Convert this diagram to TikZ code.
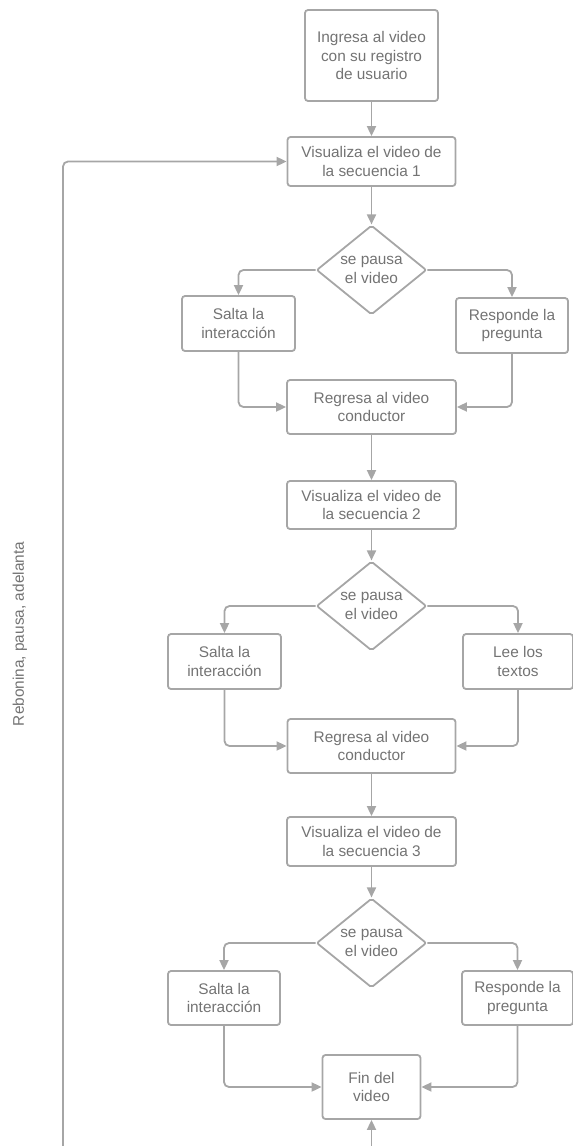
\documentclass[tikz,border=0pt]{standalone}
\usepackage{fontspec}
\setmainfont{Liberation Sans}
\usetikzlibrary{arrows.meta,shapes.geometric}
\definecolor{linec}{HTML}{A6A6A6}
\definecolor{textc}{HTML}{737373}
\begin{document}
\begin{tikzpicture}[x=1pt,y=-1pt,
  txt/.style={text=textc,font=\fontsize{15.4}{18.4}\selectfont,align=center},
  box/.style={txt,draw=linec,line width=1.8pt,rounded corners=3pt,inner sep=0pt},
  dec/.style={txt,diamond,draw=linec,line width=1.8pt,rounded corners=2pt,inner sep=0pt,minimum width=110pt,minimum height=82pt},
  conn/.style={draw=linec,line width=1.8pt,-{Triangle[length=10pt,width=9pt]},rounded corners=5pt}]
\useasboundingbox (0,0) rectangle (573,1146);

\node[box,minimum width=133pt,minimum height=91pt] (ingresa) at (371.5,55.5) {Ingresa al video\\con su registro\\de usuario};
\node[box,minimum width=168pt,minimum height=49pt] (vis1) at (371.5,161.5) {Visualiza el video de\\la secuencia 1};
\node[dec] (d1) at (371.5,270) {se pausa\\el video};
\node[box,minimum width=113pt,minimum height=55pt] (salta1) at (238.5,323.5) {Salta la\\interacción};
\node[box,minimum width=112pt,minimum height=55pt] (resp1) at (512,325.5) {Responde la\\pregunta};
\node[box,minimum width=169pt,minimum height=54pt] (reg1) at (371.5,407) {Regresa al video\\conductor};

\node[box,minimum width=169pt,minimum height=48pt] (vis2) at (371.5,505) {Visualiza el video de\\la secuencia 2};
\node[dec] (d2) at (371.5,606) {se pausa\\el video};
\node[box,minimum width=113pt,minimum height=55pt] (salta2) at (224.5,661.5) {Salta la\\interacción};
\node[box,minimum width=110pt,minimum height=55pt] (lee) at (518,661.5) {Lee los\\textos};
\node[box,minimum width=168pt,minimum height=54pt] (reg2) at (371.5,746) {Regresa al video\\conductor};

\node[box,minimum width=169pt,minimum height=49pt] (vis3) at (371.5,841.5) {Visualiza el video de\\la secuencia 3};
\node[dec] (d3) at (371.5,943) {se pausa\\el video};
\node[box,minimum width=112pt,minimum height=54pt] (salta3) at (224,998) {Salta la\\interacción};
\node[box,minimum width=111pt,minimum height=54pt] (resp3) at (517.5,998) {Responde la\\pregunta};
\node[box,minimum width=98pt,minimum height=64pt] (fin) at (371.5,1087) {Fin del\\video};

\node[txt,rotate=90] (lbl) at (20,634) {Rebonina, pausa, adelanta};

\draw[conn] (ingresa) -- (vis1);
\draw[conn] (vis1) -- (d1);
\draw[conn] (d1.west) -| (salta1.north);
\draw[conn] (d1.east) -| (resp1.north);
\draw[conn] (salta1.south) |- (reg1.west);
\draw[conn] (resp1.south) |- (reg1.east);
\draw[conn] (reg1) -- (vis2);
\draw[conn] (vis2) -- (d2);
\draw[conn] (d2.west) -| (salta2.north);
\draw[conn] (d2.east) -| (lee.north);
\draw[conn] (salta2.south) |- (reg2.west);
\draw[conn] (lee.south) |- (reg2.east);
\draw[conn] (reg2) -- (vis3);
\draw[conn] (vis3) -- (d3);
\draw[conn] (d3.west) -| (salta3.north);
\draw[conn] (d3.east) -| (resp3.north);
\draw[conn] (salta3.south) |- (fin.west);
\draw[conn] (resp3.south) |- (fin.east);
\coordinate (bot) at (371.5,1146);
\draw[conn] (bot) -- (fin.south);
\coordinate (loopb) at (63,1146);
\draw[conn] (loopb) |- (vis1.west);
\end{tikzpicture}
\end{document}
